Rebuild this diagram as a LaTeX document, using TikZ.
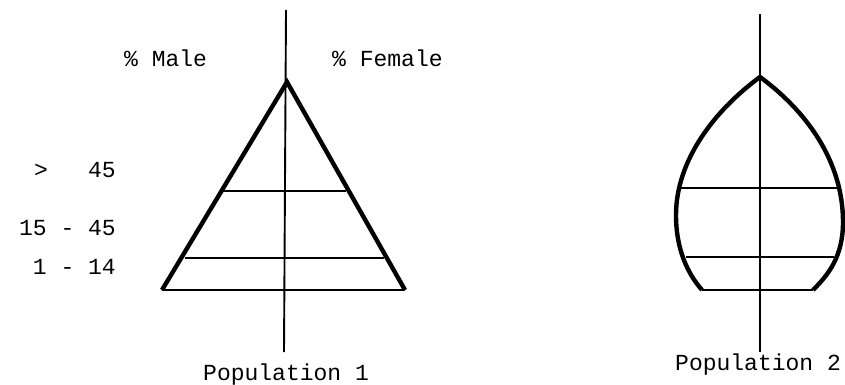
\documentclass[tikz,border=0pt]{standalone}
\usepackage{fontspec}
\newfontfamily\plotfont{Liberation Mono}[WordSpace={1,0,0}]
\begin{document}
\begin{tikzpicture}[x=1pt,y=-1pt,
  outline/.style={line width=4.4pt,line join=miter},
  thin/.style={line width=1.9pt},
  lbl/.style={font=\plotfont\fontsize{23}{26}\selectfont,inner sep=0pt}]
\useasboundingbox (0,0) rectangle (845,385);
% Population 1
\draw[thin] (286,10) -- (284,352);
\draw[outline] (162,290) -- (287,82) -- (405,290);
\draw[thin] (162,290) -- (405,290);
\draw[thin] (223,191) -- (346,191);
\draw[thin] (185,258) -- (384,258);
\node[lbl,anchor=base west] (male) at (124,67) {\% Male};
\node[lbl,anchor=base west] (female) at (332,67) {\% Female};
\node[lbl,anchor=base west] (gt) at (34,177) {>};
\node[lbl,anchor=base east] (a1) at (116,177) {45};
\node[lbl,anchor=base east] (a2) at (116,235) {15 - 45};
\node[lbl,anchor=base east] (a3) at (116,274) {1 - 14};
\node[lbl,anchor=base west] (p1) at (203,380) {Population 1};
% Population 2
\draw[thin] (760,14) -- (760,352);
\draw[outline] (702,290) .. controls (688,274) and (676,250) .. (676,215)
  .. controls (676,160) and (715,110) .. (760,77)
  .. controls (805,110) and (843,160) .. (843,222)
  .. controls (843,257) and (828,275) .. (813,290);
\draw[thin] (702,290) -- (813,290);
\draw[thin] (681,188) -- (839,188);
\draw[thin] (686,257) -- (834,257);
\node[lbl,anchor=base west] (p2) at (675,370) {Population 2};
\end{tikzpicture}
\end{document}
